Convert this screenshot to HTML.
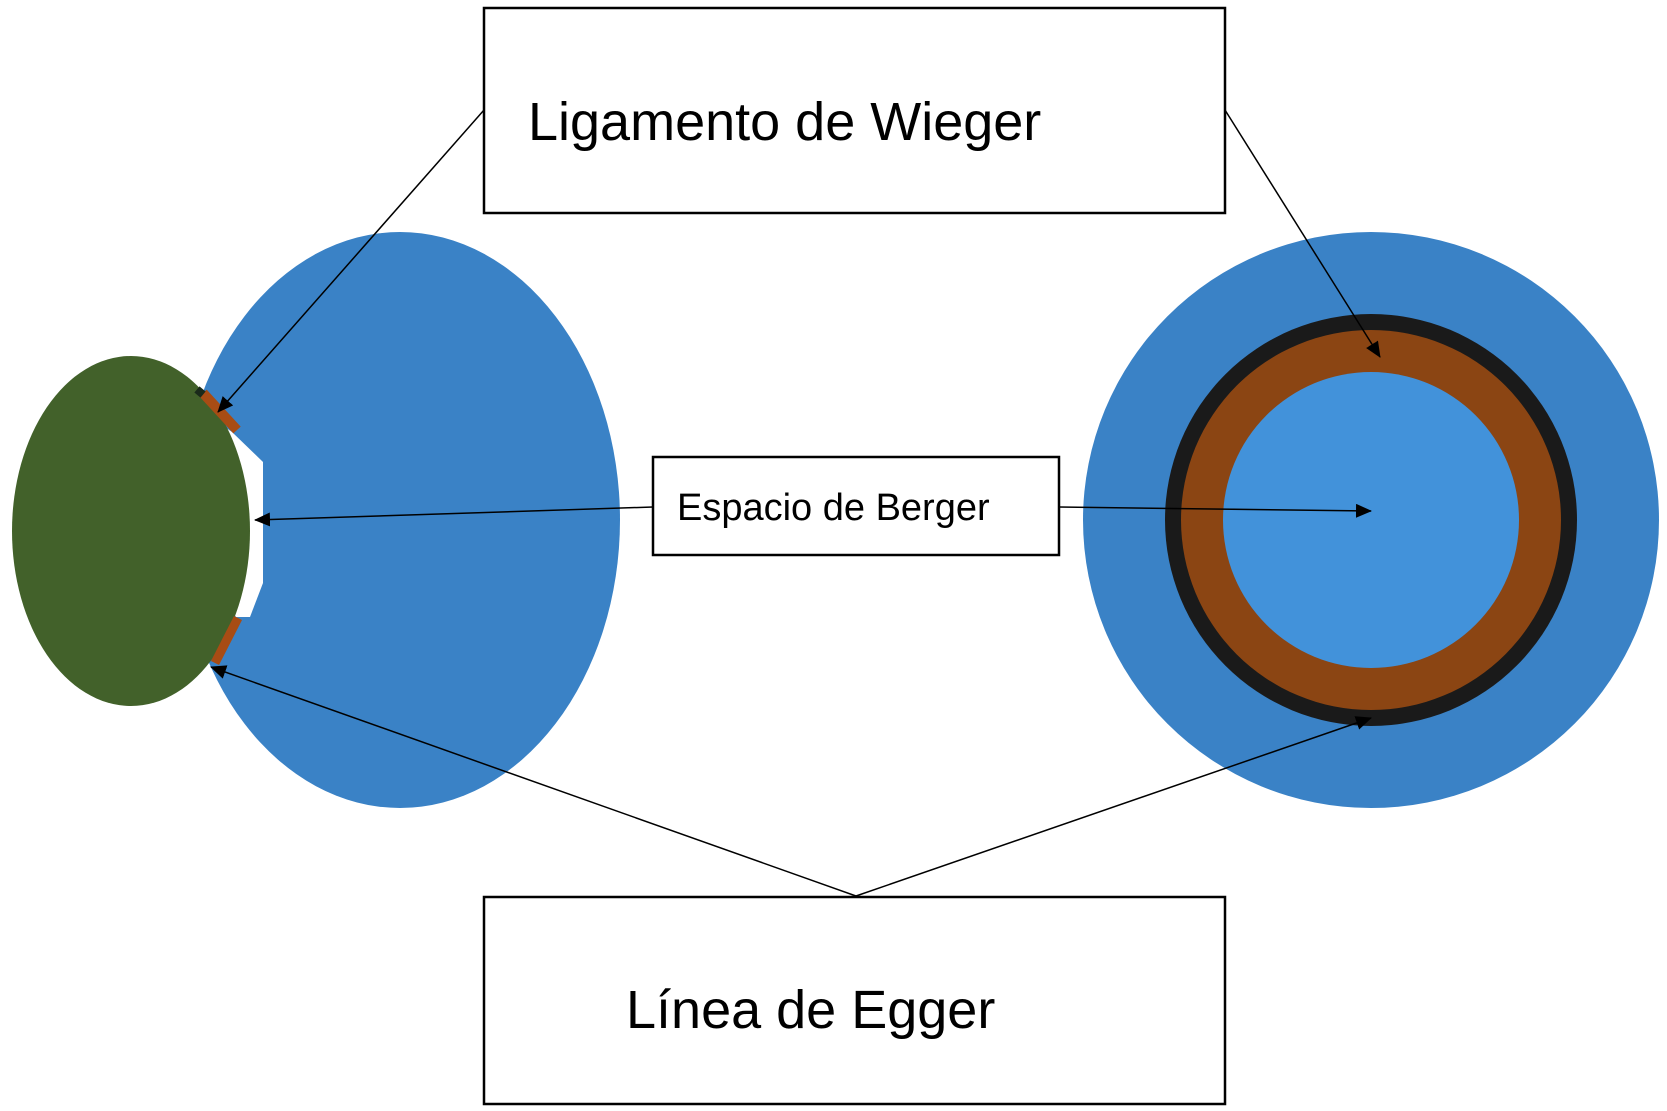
<!DOCTYPE html>
<html><head><meta charset="utf-8"><style>
html,body{margin:0;padding:0;background:#fff;}
svg{display:block;}
text{font-family:"Liberation Sans",sans-serif;fill:#000;}
</style></head><body>
<svg width="1667" height="1111" viewBox="0 0 1667 1111" xmlns="http://www.w3.org/2000/svg">
<defs>
<marker id="a" markerWidth="10" markerHeight="10" refX="9" refY="5" orient="auto" markerUnits="userSpaceOnUse" viewBox="0 0 10 10">
<path d="M0,0 L10,5 L0,10 z" fill="#000"/>
</marker>
<marker id="b" markerWidth="16" markerHeight="14" refX="15" refY="7" orient="auto" markerUnits="userSpaceOnUse" viewBox="0 0 16 14">
<path d="M0,0 L16,7 L0,14 z" fill="#000"/>
</marker>
</defs>
<rect width="1667" height="1111" fill="#fff"/>
<!-- left eye -->
<ellipse cx="400" cy="520" rx="220" ry="288" fill="#3a82c6"/>
<polygon points="222,425 232,432 263,462 263,583 250,617 236,617 225,600" fill="#fff"/>
<ellipse cx="131" cy="531" rx="119" ry="175" fill="#42612a"/>
<line x1="203" y1="393" x2="237" y2="430" stroke="#a84c14" stroke-width="10"/>
<rect x="196" y="388" width="8" height="8" fill="#1a2a1a" transform="rotate(40 200 392)"/>
<line x1="238" y1="618" x2="215" y2="663" stroke="#a84c14" stroke-width="9"/>
<!-- right eye -->
<circle cx="1371" cy="520" r="288" fill="#3a82c6"/>
<circle cx="1371" cy="520" r="206" fill="#1a1a1a"/>
<circle cx="1371" cy="520" r="190" fill="#8b4513"/>
<circle cx="1371" cy="520" r="148" fill="#4292da"/>
<!-- boxes -->
<rect x="484" y="8" width="741" height="205" fill="#fff" stroke="#000" stroke-width="2.5"/>
<text x="528" y="140" font-size="54">Ligamento de Wieger</text>
<rect x="653" y="457" width="406" height="98" fill="#fff" stroke="#000" stroke-width="2.5"/>
<text x="677" y="520" font-size="38">Espacio de Berger</text>
<rect x="484" y="897" width="741" height="207" fill="#fff" stroke="#000" stroke-width="2.5"/>
<text x="626" y="1028" font-size="54">Línea de Egger</text>
<!-- connectors -->
<g stroke="#000" stroke-width="1.5" fill="none">
<line x1="484" y1="110" x2="218" y2="412" marker-end="url(#b)"/>
<line x1="1225" y1="110" x2="1380" y2="357" marker-end="url(#b)"/>
<line x1="653" y1="507" x2="255" y2="520" marker-end="url(#b)"/>
<line x1="1059" y1="507" x2="1371" y2="511" marker-end="url(#b)"/>
<line x1="856" y1="896" x2="211" y2="667" marker-end="url(#b)"/>
<line x1="856" y1="896" x2="1371" y2="718" marker-end="url(#b)"/>
</g>
</svg>
</body></html>
